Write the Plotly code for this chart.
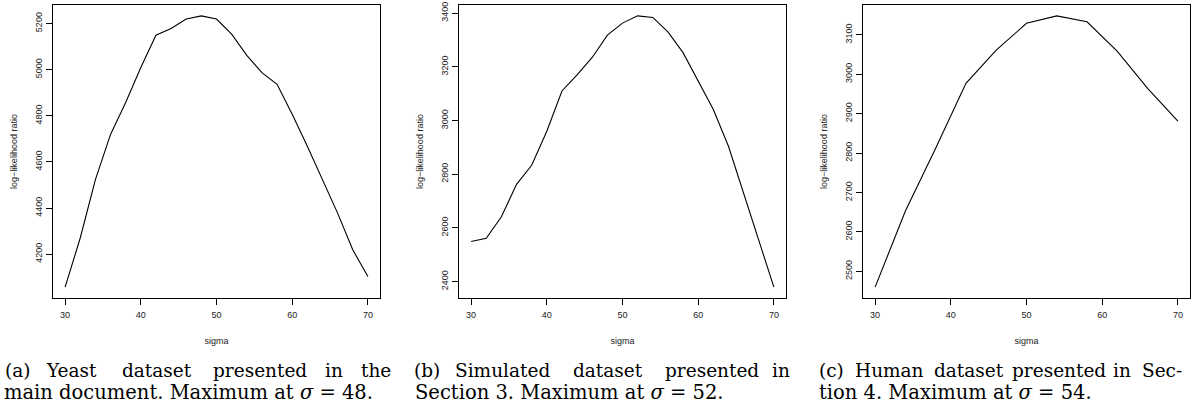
import plotly.graph_objects as go

sigma_a = [30, 32, 34, 36, 38, 40, 42, 44, 46, 48, 50, 52, 54, 56, 58, 60, 62, 64, 66, 68, 70]
llr_a = [4057, 4270, 4523, 4719, 4857, 5009, 5149, 5178, 5219, 5233, 5219, 5154, 5062,
         4987, 4936, 4806, 4668, 4523, 4378, 4219, 4103]

sigma_b = [30, 32, 34, 36, 38, 40, 42, 44, 46, 48, 50, 52, 54, 56, 58, 60, 62, 64, 66, 68, 70]
llr_b = [2549, 2561, 2641, 2762, 2833, 2960, 3110, 3170, 3235, 3318, 3363, 3390, 3384,
         3330, 3253, 3147, 3041, 2904, 2730, 2556, 2379]

sigma_c = [30, 34, 38, 42, 46, 50, 54, 58, 62, 66, 70]
llr_c = [2460, 2653, 2812, 2977, 3061, 3129, 3148, 3133, 3058, 2964, 2881]

x_ticks = [30, 40, 50, 60, 70]
y_ticks_a = [4200, 4400, 4600, 4800, 5000, 5200]
y_ticks_b = [2400, 2600, 2800, 3000, 3200, 3400]
y_ticks_c = [2500, 2600, 2700, 2800, 2900, 3000, 3100]

caption_words = [
    ["(a)", "Yeast", "dataset", "presented", "in", "the"],
    ["(b)", "Simulated", "dataset", "presented", "in"],
    ["(c)", "Human", "dataset", "presented", "in", "Sec-"],
]
caption_line2 = [
    "main document. Maximum at <i>σ</i> = 48.",
    "Section 3. Maximum at <i>σ</i> = 52.",
    "tion 4. Maximum at <i>σ</i> = 54.",
]

W, H = 1195, 407
# layout (pixel positions)
panels_px = [(53, 380), (459, 786), (863, 1190)]
top_px, bot_px = 5, 298
word_centers_px = [
    [17, 71, 157, 260, 334, 376],
    [427, 502, 608, 712, 781],
    [831, 889, 969, 1059, 1122, 1162],
]
line2_left_px = [2, 413, 817]
line1_base_px, line2_base_px = 383, 406

panels = [(sigma_a, llr_a, y_ticks_a), (sigma_b, llr_b, y_ticks_b), (sigma_c, llr_c, y_ticks_c)]

fig = go.Figure()
axis_font = dict(family="Liberation Sans, Arial, sans-serif", size=9, color="#222")
for i, ((xs, ys, yt), (l, r)) in enumerate(zip(panels, panels_px)):
    n = "" if i == 0 else str(i + 1)
    fig.add_trace(go.Scatter(x=xs, y=ys, mode="lines", line=dict(color="black", width=1.1),
                             xaxis="x" + n, yaxis="y" + n, showlegend=False, hoverinfo="skip"))
    ymin, ymax = min(ys), max(ys)
    pad = 0.04 * (ymax - ymin)
    xpad = 0.04 * (max(xs) - min(xs))
    fig.update_layout(**{
        "xaxis" + n: dict(domain=[l / W, r / W], anchor="y" + n, range=[min(xs) - xpad, max(xs) + xpad],
                          tickvals=x_ticks, ticks="outside", ticklen=6, tickcolor="black",
                          ticklabelstandoff=2,
                          showline=True, linecolor="black", linewidth=1, mirror=True,
                          showgrid=False, zeroline=False, tickfont=axis_font,
                          title=dict(text="sigma", font=axis_font, standoff=18)),
        "yaxis" + n: dict(domain=[1 - bot_px / H, 1 - top_px / H], anchor="x" + n,
                          range=[ymin - pad, ymax + pad],
                          tickvals=yt, ticks="outside", ticklen=6, tickcolor="black",
                          tickangle=-90,
                          showline=True, linecolor="black", linewidth=1, mirror=True,
                          showgrid=False, zeroline=False, tickfont=axis_font,
                          title=dict(text="log−likelihood ratio", font=axis_font, standoff=15)),
    })

cap_font1 = dict(family="DejaVu Serif, serif", size=18.5, color="black")
cap_font2 = dict(family="DejaVu Serif, serif", size=19.5, color="black")
for words, centers in zip(caption_words, word_centers_px):
    for w, cx in zip(words, centers):
        fig.add_annotation(x=cx / W, y=1 - line1_base_px / H, xref="paper", yref="paper", text=w,
                           showarrow=False, xanchor="center", yanchor="bottom", font=cap_font1)
for text, x2 in zip(caption_line2, line2_left_px):
    fig.add_annotation(x=x2 / W, y=1 - line2_base_px / H, xref="paper", yref="paper", text=text,
                       showarrow=False, xanchor="left", yanchor="bottom", font=cap_font2)

fig.update_layout(width=W, height=H, margin=dict(l=0, r=0, t=0, b=0, autoexpand=False),
                  paper_bgcolor="white", plot_bgcolor="white")
fig.write_html("out.html", config={"displayModeBar": False},
               post_script="document.body.style.margin='0px';")
